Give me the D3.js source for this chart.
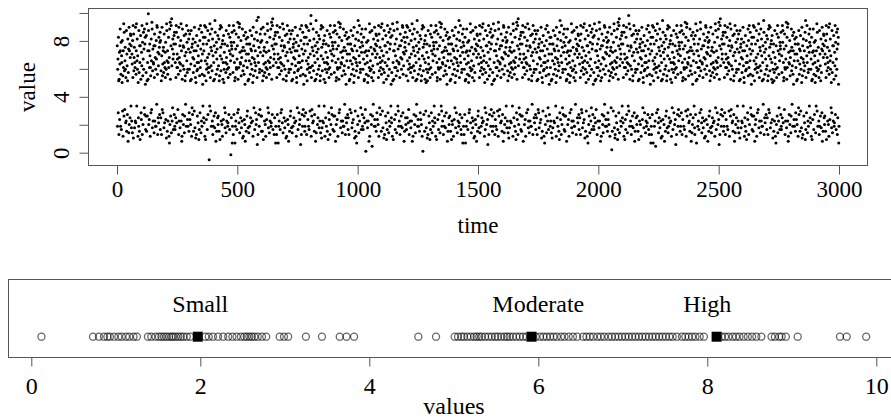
<!DOCTYPE html>
<html>
<head>
<meta charset="utf-8">
<script src="https://cdn.jsdelivr.net/npm/d3@7"></script>
<style>
  body { margin: 0; background: #fff; }
  svg { display: block; }
</style>
</head>
<body>
<script>
// top panel: one reading per time step (t = 1..3000), typed as one character each.
// key: position in ALPHA, value = -0.5 + 0.12 * position (so "8" ~ 2, "Y" ~ 6, "j" ~ 7.9)
const ALPHA = "#$%&'()*+,-./0123456789:;<=>?@ABCDEFGHIJKLMNOPQRSTUVWXYZ[]^_`abcdefghijklmnopqrstuvwxyz{|}~";
const valueRows = [
  "h7Y`?mR2Sd ;]re7Vj5b^ Qk@U1eZu=p XA_gY9T:q4 c[>Rl.Wf3s 8ei<aonCh6",
  ":c]3kTt0oX ag6^Z:s9Ve uC_lYb1Q<7 qW4h^/hnS? ;d[t2jU8`p YfBr>imP5=",
  "Wn4uR=^eS{ q8e;Zib1ZU ?l_Avr6Xf: ^]h3To:ha7 Y7k`DtsV2d <[9mcg>jp5",
  "k<XR2bsAU] ?egW6o^9Zd Tj;Y0uq_4e V:^mZ1a-r8 vS=ht3x[:f Bl`5cin>p7",
  "5^i<Ttp9Zc `ZAmV2s:a^ h6X]ku:e.1 Sr>[h8gYn3 =bRUDod7t_ jW;Y7qfl4?",
  "Yo;dR8]qS1 gBi>alW4`e @s[6jT0Qe2 nX^=Yh9b^/ r5Uk?Ztf3_ :p7VcPCim<",
  "e9Ut1m_/sR ;Yi]5aq>ZW kc#ZCuoT@g [7erX:l2b7 R^=hS6wp?d .Vj4`fY<n8",
  "=[l4RUr/bt gX:s`8i1kS ^;nQYdBi6? ^W3qa:]Yh7 9ToZ>te5mV c_&j<hfp-7",
  "bW2tj>q^R- T7f:oZY5`h ?vSAmZ9su3 d^]<kU6ae: r0Xg1[nV;e 8P.p_l4ci=",
  "Z@mR6cS3i_ 7iqV<f]9en Ya:Q1sUhB` l5^Xe?[8p; wT,kb2y^>g 7WYAodj=r4",
  "=kX4Rbs/U] eg:Wo8^1Zd T;jYuqB_6? eV3^m:Zar7 9vSh>tx5[f l`2c<inp-7",
  "^i2Tt>pZc- `7Z:mVs5a^ ?hXA]k9ue3 Sr[<hg6Yn: b0RU1odt;_ 8j.WYq4fl=",
  "Y@od6R]3qS 7gia<lW9`e s[:j1TQeBn X5^Yh?b8^; rU,kZ2tf>_ 7pVAcPi=m4",
  "7eU?tm_2sR Yi;]a7q5ZW k@cZuz1T=A g[9er:Xlb4 >R^h.Sw3pd Vj8`<fYnC6",
  "[l:RU3rbt0 g6X:s`i9kS C^n1QY<di7 ^Wq4a]/Yh? T;oZ2tem8V Bc>_jh5fp=",
  "b4Wt=jq.^R 8Tfo;ZY1`h vS?mAZsu6d ^:]kU3a:e7 rX7g[DnV2e <Pp9_lc>i5",
  "<Zm2RcSAi_ iq?Vf6]9en Y;aQsU0h4@ `l1^X-e[p8 =wTk3bt:^g WYBo5djr>7",
  "hY5`m<RSd9 ]Ar(eVj:b^ 6Qk:Ue.Zu1 pX_>gY8Tq+ c=[RDlWf7s ;e7iao4nh?",
  "c;]k8Tt1oX Bag^>Zs4Ve u_@l6YbQ0q W2h^h=n9S/ d[5tj?U`3p :Yf7rimCP<",
  "9Wn1uR^/eS qe;Zi5b>ZU l3_vrXCf@7 ^]:hT2oha7 =Yk`6ts?Vd [m.c4gjp<8",
  "eU5tm<_sR9 YAi2]aq:ZW 6kc:Zu.oT1 g[e>rX8lb3 R=^hDSwp7d ;V7j`f4Yn?",
  "[;lR8Ur1bt (gXs>`i4kS ^n@Q6Ydi0R W2qa]=Y9h/ To5Zt?em3V :c_7jhfCp<",
  "9bW1tjq/^R Tf;oZ5Y>`h v3SmZsCu@7 d^:]k2Uae7 =rXg6[n?Ve Pp._4lci<8",
  "Zm=Rc4Si_/ i:q8Vf]1en ;YaBQs6Uh? `l^3Xe:[p7 w9Tk>bt^5g 2W<Yod-jr7",
  "h2Y`>mR-Sd 7]re:Vj5b^ Qk?UAeZu9p X3_gY<T6q: c[0Rl1Wf;s 8ei.aon4h=",
  "@c]6kTt3oX ag7^Z<s9Ve u:_lYb1QB5 qW?h^8hnS; ,d[t2jU>`p Yf7rAimP=4",
  "Wn7uR?^eS2 q;e7Zib5ZU @l_1vr=XfA ^]h9To:ha4 Y>k`.tsV3d 8[<mcgCjp6",
  "k:XR3bs0U] 6egW:o^9Zd TjCY1uq_<e V7^mZ4a/r? vS;ht2x[8f Bl`>cin5p=",
  "4^i=Ttp.Zc `Z8mV;s1a^ h?X]kuAe6: Sr3[h:gYn7 7bRUDod2t_ jW<Y9qfl>5",
  "Yo<dR2]qSA g?i6alW9`e ;s[0jT4Qe@ nX^1Yh-b^8 r=Uk3Ztf:_ Bp5VcP>im7",
  "Z:mR3cS0i_ 6iqV:f]9en YaCQ1sUh<` l7^Xe4[/p? wT;kb2t^8g BWY>odj5r=",
  "4hY=`mR.Sd ]r8eV;j1b^ Q?kUeZAu6: pX3_g:YTq7 7c[RDlW2fs ei<a9onh>5",
  "c]<kT2toXA a?g6^Zs9Ve ;u_0lY4bQ@ qWh1^h-nS8 d=[t3jU`:p BY5fri>mP7",
  "W5nu<R^9eS AqeZ2ib:ZU l_6v:rXf.R ]1hTo>h8a3 Yk=`tDsV7d ;[m7cgj4p?",
  ";kX8Rbs1U] egBWo)^4Zd T@jYuq6_02 eV=^m9Zar/ 5vSh?tx3[f l`:c7inpC<",
  "^i9Tt1pZc/ `;Z5mVs>a^ 3hXC]z@ue7 Sr[:hg2Yn7 b=RU6odt?_ .j4WYq<fl8",
  "Y=od4R]/qS :gia8lW1`e s[;jBTQe6n X?^Yh3b:^7 rU9kZ>tf5_ 2pV<cPi-m7",
  "2eU>tm_-sR Yi7]a:q+ZW k?cZuoAT93 g[<er6Xlb: 0R^h1Sw;pd Vj8`.fYn4=",
  "[l@RU6rbt3 g7X<s`i9kS :^n1QYBdi5 ^Wq?a]8Yh; T,oZ2tem>V 7cA_jh=fp4",
  "b7Wt?jq2^R ;Tfo7ZY5`h vS@m1Zsu=d ^A]kU9a:e4 rX>g[.nV3e 8Pp<_lcCi6",
  "2Wn>uR^-eS qe7Zi:b5ZU l?_vrXAf93 ^]<hT6oha: 0Yk`1ts;Vd [m8c.gjp4=",
  "kX@Rb6sU]3 e7g<Wo^9Zd :Tj1YuBq_5 eV^?mZ8ar; v,Sh2tx[>f 7lA`ci=np4",
  "^7iT?tp2Zc ;`Zm7Vs5a^ hX@]1kue=S rA[hg9Y:n4 bR>Uo.dt3_ 8jW<YqfCl6",
  ":Yo3dR]0qS gi6al:W9`e sC[jTQ1e<7 nX4^Y/hb^? ;rUk2Zt8f_ pVBc>Pim5=",
  "eU4tm=_sR. Y8i;]aq1ZW ?kcAZu6oT: g[e3rX:lb7 R7^hDSwp2d <V9j`f>Yn5",
  "[<lR2UrAbt ?gXs6`i9kS ^n;Q0Ydi4R W:qa]1Y-h8 To=Zt3em:V Bc_5jhf>p7",
  "5bW<tjq9^R TfAoZ2Y:`h v6SmZs:u.1 d^>]k8Uae3 =rXgD[n7Ve Pp;_7lci4?",
  "Zm;Rc8Si_1 iBq>Vf]4en @Ya6Qs0Uh2 `l^=Xe9[p/ w5Tk?bt^3g :W7YodCjr<",
  "h9Y`1mR/Sd ;]re5Vj>b^ Qk3UCeZu@p X7_gY:T2q7 c[=Rl6Wf?s .ei4aon<h8",
  "=c]4kTt/oX ag:^Z8s1Ve u;_lYbBQ6? qW3h^:hnS7 9d[t>jU5`p Yf2r<imP-7"
];
const timeTicks = [0, 500, 1000, 1500, 2000, 2500, 3000];
const valueTicks = [0, 2, 4, 6, 8, 10];
const valueTickLabels = [0, 4, 8];

// bottom panel
const stripValues = [
  0.12,
  0.73, 0.80, 0.86, 0.90, 0.93, 0.98, 1.03, 1.07, 1.12, 1.16, 1.21, 1.25,
  1.38, 1.42, 1.47, 1.51, 1.54, 1.57, 1.60, 1.63, 1.66, 1.68, 1.71, 1.74, 1.77, 1.80, 1.84, 1.88,
  2.06, 2.10, 2.15, 2.21, 2.27, 2.33, 2.38, 2.43, 2.48, 2.52, 2.55, 2.58, 2.61, 2.64, 2.68, 2.73, 2.78,
  2.94, 2.99, 3.04, 3.25, 3.44, 3.65, 3.73, 3.82,
  4.58, 4.79,
  5.01, 5.05, 5.09, 5.12, 5.16, 5.20, 5.24, 5.27, 5.30, 5.33, 5.37, 5.41, 5.45, 5.49, 5.52, 5.56,
  5.60, 5.63, 5.66, 5.70, 5.74, 5.78, 5.82, 5.86,
  5.97, 6.02, 6.06, 6.10, 6.14, 6.18, 6.22, 6.27, 6.31, 6.36, 6.41, 6.46,
  6.53, 6.57, 6.61, 6.65, 6.70, 6.74, 6.78, 6.83, 6.87, 6.91, 6.95, 6.99, 7.03, 7.07, 7.11, 7.15,
  7.19, 7.23, 7.27, 7.31, 7.35, 7.39, 7.43, 7.47, 7.51, 7.55, 7.59, 7.64,
  7.70, 7.74, 7.78, 7.82, 7.86, 7.91, 7.96,
  8.17, 8.21, 8.25, 8.30, 8.34, 8.38, 8.43, 8.48, 8.53, 8.58, 8.64,
  8.76, 8.80, 8.85, 8.88, 8.93, 9.07, 9.57, 9.65, 9.88
];
const groupNames = ["Small", "Moderate", "High"];
const groupLabelAt = [2, 6, 8];
const groupMeans = [1.97, 5.92, 8.11];
const stripTicks = [0, 2, 4, 6, 8, 10];

const font = "'Liberation Serif', 'Times New Roman', serif";
const lineCol = "#555";

const series = [];
valueRows.join("").split("").forEach(c => {
    const k = ALPHA.indexOf(c);
    if (k >= 0) series.push({t: series.length + 1, v: -0.5 + 0.12 * k});
});

const svg = d3.select("body").append("svg")
    .attr("width", 891).attr("height", 418)
    .style("font-family", font);

// ---------- top panel: value over time
const x = d3.scaleLinear().domain([0, 3000]).range([117, 839]);
const y = d3.scaleLinear().domain([0, 8]).range([152.7, 40.9]);
const topPanel = svg.append("g");

topPanel.append("g").selectAll("circle")
    .data(series)
    .join("circle")
    .attr("cx", d => x(d.t))
    .attr("cy", d => y(d.v))
    .attr("r", 1.5)
    .attr("fill", "#000");

topPanel.append("rect")
    .attr("x", 88.5).attr("y", 8.5)
    .attr("width", 779).attr("height", 157)
    .attr("fill", "none").attr("stroke", lineCol);

const xAxis = topPanel.append("g")
    .attr("transform", "translate(0,165.5)")
    .call(d3.axisBottom(x).tickValues(timeTicks).tickSize(9).tickFormat(d3.format("d")));
xAxis.select(".domain").remove();
xAxis.selectAll("line").attr("stroke", lineCol);
xAxis.selectAll("text")
    .attr("y", 31).attr("dy", null)
    .attr("fill", "#000")
    .style("font-family", font).style("font-size", "23px");

const yAxis = topPanel.append("g")
    .attr("transform", "translate(88.5,0)")
    .call(d3.axisLeft(y).tickValues(valueTicks).tickSize(9)
        .tickFormat(d => valueTickLabels.includes(d) ? d : ""));
yAxis.select(".domain").remove();
yAxis.selectAll("line").attr("stroke", lineCol);
yAxis.selectAll("text")
    .attr("x", null).attr("dy", null)
    .attr("transform", "translate(-20,0) rotate(-90)")
    .attr("text-anchor", "middle")
    .attr("fill", "#000")
    .style("font-family", font).style("font-size", "23px");

topPanel.append("text")
    .attr("x", 478).attr("y", 233)
    .attr("text-anchor", "middle")
    .style("font-size", "23px")
    .text("time");

topPanel.append("text")
    .attr("transform", "translate(35,87) rotate(-90)")
    .attr("text-anchor", "middle")
    .style("font-size", "23px")
    .text("value");

// ---------- bottom panel: strip of values with group means
const xb = d3.scaleLinear().domain([0, 10]).range([31.3, 876.3]);
const cy = 336.7;
const bottomPanel = svg.append("g");

bottomPanel.append("rect")
    .attr("x", 8.5).attr("y", 279.5)
    .attr("width", 895).attr("height", 78)
    .attr("fill", "none").attr("stroke", lineCol);

bottomPanel.append("g").selectAll("circle")
    .data(stripValues)
    .join("circle")
    .attr("cx", d => xb(d))
    .attr("cy", cy)
    .attr("r", 3.5)
    .attr("fill", "none")
    .attr("stroke", "rgba(0,0,0,0.6)")
    .attr("stroke-width", 1.3);

bottomPanel.append("g").selectAll("rect")
    .data(groupMeans)
    .join("rect")
    .attr("x", d => xb(d) - 5)
    .attr("y", cy - 5)
    .attr("width", 10).attr("height", 10)
    .attr("fill", "#000");

bottomPanel.append("g").selectAll("text")
    .data(groupNames)
    .join("text")
    .attr("x", (d, i) => xb(groupLabelAt[i]))
    .attr("y", 311.5)
    .attr("text-anchor", "middle")
    .style("font-size", "24px")
    .text(d => d);

const bAxis = bottomPanel.append("g")
    .attr("transform", "translate(0,357.5)")
    .call(d3.axisBottom(xb).tickValues(stripTicks).tickSize(9).tickFormat(d3.format("d")));
bAxis.select(".domain").remove();
bAxis.selectAll("line").attr("stroke", lineCol);
bAxis.selectAll("text")
    .attr("y", 36).attr("dy", null)
    .attr("fill", "#000")
    .style("font-family", font).style("font-size", "24px");

bottomPanel.append("text")
    .attr("x", 454).attr("y", 414)
    .attr("text-anchor", "middle")
    .style("font-size", "24px")
    .text("values");
</script>
</body>
</html>
